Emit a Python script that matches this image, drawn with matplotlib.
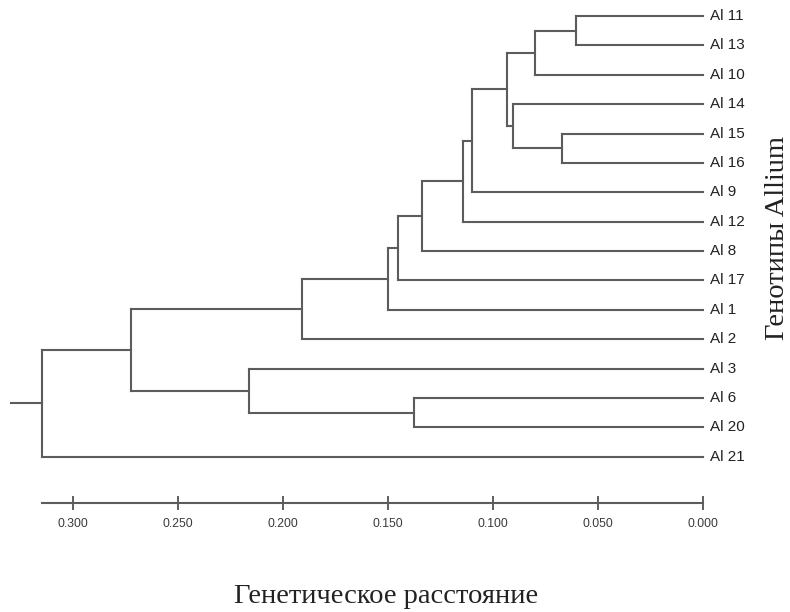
import matplotlib
matplotlib.use("Agg")
import matplotlib.pyplot as plt

# ---------------------------------------------------------
# Data: leaves (top to bottom) and merges of the dendrogram
# ---------------------------------------------------------

leaf_labels = ["Al 11", "Al 13", "Al 10", "Al 14", "Al 15", "Al 16", "Al 9",
               "Al 12", "Al 8", "Al 17", "Al 1", "Al 2", "Al 3", "Al 6",
               "Al 20", "Al 21"]

# ids < 16 are leaves, id 16 + k is the k-th merge
merge_a = [0, 16, 4, 3, 17, 20, 21, 22, 23, 24, 25, 13, 12, 26, 29]
merge_b = [1, 2, 5, 18, 19, 6, 7, 8, 9, 10, 11, 14, 27, 28, 15]
merge_h = [0.0605, 0.080, 0.067, 0.0906, 0.0935, 0.110, 0.1144, 0.134,
           0.145, 0.150, 0.191, 0.1377, 0.2162, 0.2726, 0.3148]

root_stub = 0.0148

tick_values = [0.300, 0.250, 0.200, 0.150, 0.100, 0.050, 0.000]

line_color = "#5c5c5c"
lw = 1.5

# ---------------------------------------------------------
# Figure
# ---------------------------------------------------------

fig = plt.figure(figsize=(7.9, 6.12), dpi=100)
ax = fig.add_axes([0, 0, 1, 1])
ax.set_xlim(0.33476, -0.04143)
ax.set_ylim(20.286, -0.5446)

n = len(leaf_labels)
node_x = [0.0] * n
node_y = [float(i) for i in range(n)]

for a, b, h in zip(merge_a, merge_b, merge_h):
    ya, yb = node_y[a], node_y[b]
    ax.plot([h, h], [ya, yb], color=line_color, lw=lw, solid_capstyle="projecting")
    ax.plot([node_x[a], h], [ya, ya], color=line_color, lw=lw)
    ax.plot([node_x[b], h], [yb, yb], color=line_color, lw=lw)
    node_x.append(h)
    node_y.append((ya + yb) / 2)

# stub to the left of the root
ax.plot([node_x[-1], node_x[-1] + root_stub], [node_y[-1], node_y[-1]],
        color=line_color, lw=lw)

for i, lab in enumerate(leaf_labels):
    ax.text(-0.0033, i, lab, ha="left", va="center", fontsize=11,
            family="Liberation Sans", color="#222222")

# ---------------------------------------------------------
# Scale axis
# ---------------------------------------------------------

for side in ["left", "right", "top"]:
    ax.spines[side].set_visible(False)
ax.spines["bottom"].set_position(("data", 16.57))
ax.spines["bottom"].set_bounds(0.0, merge_h[-1])
ax.spines["bottom"].set_color(line_color)
ax.spines["bottom"].set_linewidth(lw)
ax.set_yticks([])
ax.set_xticks(tick_values)
ax.set_xticklabels([f"{v:.3f}" for v in tick_values])
ax.tick_params(axis="x", direction="inout", length=9.4, width=1.1,
               color="#333333", pad=6.5, labelsize=8.8, labelcolor="#3a3a3a")
for t in ax.get_xticklabels():
    t.set_family("Liberation Sans")

ax.patch.set_visible(False)

fig.text(386 / 790, 1 - 603 / 612, "Генетическое расстояние", ha="center",
         va="baseline", fontsize=20.5, family="Liberation Serif", color="#222222")
fig.text(777 / 790, 1 - 238 / 612, "Генотипы Allium", ha="center", va="center",
         rotation=90, fontsize=20.5, family="Liberation Serif", color="#222222")

fig.savefig("out.png", dpi=100)
